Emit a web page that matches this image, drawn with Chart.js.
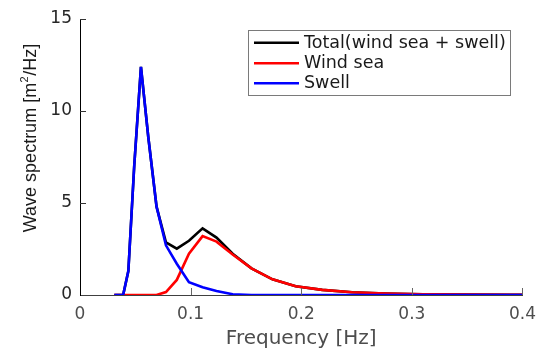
<!DOCTYPE html>
<html><head><meta charset="utf-8">
<script src="https://cdn.jsdelivr.net/npm/chart.js@4.4.1/dist/chart.umd.min.js"></script>
<style>html,body{margin:0;padding:0;background:#fff;overflow:hidden}#wrap{width:545px;height:351px;position:relative}</style>
</head><body><div id="wrap"><canvas id="c" width="545" height="351"></canvas></div>
<script>
const frequency = [0.031,0.035,0.039,0.0437,0.049,0.0551,0.0617,0.0692,0.0777,0.0875,0.0985,0.1108,0.1234,0.138,0.155,0.174,0.195,0.219,0.246,0.276,0.31,0.348,0.39,0.4];
const swell     = [0,0,0,1.3,7.0,12.4,8.6,4.8,2.7,1.7,0.7,0.42,0.22,0.04,0,0,0,0,0,0,0,0,0,0];
const windSea   = [0,0,0,0,0,0,0,0,0.16,0.82,2.25,3.2,2.9,2.2,1.45,0.85,0.48,0.28,0.15,0.08,0.04,0.02,0.01,0.01];
const total     = [0,0,0,1.3,7.0,12.4,8.6,4.8,2.86,2.52,2.95,3.62,3.12,2.24,1.45,0.85,0.48,0.28,0.15,0.08,0.04,0.02,0.01,0.01];
const seriesLabels = ['Total(wind sea + swell)','Wind sea','Swell'];
const xTickValues = [0,0.1,0.2,0.3,0.4];
const yTickValues = [0,5,10,15];
const xTitle = 'Frequency [Hz]';
const yTitleParts = ['Wave spectrum [m','2','/Hz]'];

const pts = ys => frequency.map((f,i)=>({x:f,y:ys[i]}));
const TICK_FONT = {family:'DejaVu Sans', size:17};

const inwardTicks = {
  id:'inwardTicks',
  afterDraw(chart){
    const ctx = chart.ctx, xs = chart.scales.x, ys = chart.scales.y, a = chart.chartArea;
    ctx.save();
    ctx.lineWidth = 1;
    ctx.strokeStyle = '#333';
    ys.ticks.forEach(t=>{ if(t.value===0) return; const y=Math.round(ys.getPixelForValue(t.value))+0.5;
      ctx.beginPath(); ctx.moveTo(a.left, y); ctx.lineTo(a.left+6, y); ctx.stroke(); });
    ctx.strokeStyle = '#666';
    xs.ticks.forEach(t=>{ if(t.value===0) return; const x=Math.round(xs.getPixelForValue(t.value))+0.5;
      ctx.beginPath(); ctx.moveTo(x, a.bottom); ctx.lineTo(x, a.bottom-7); ctx.stroke(); });
    ctx.restore();
  }
};

const yTitlePlugin = {
  id:'yTitle',
  afterDraw(chart){
    const ctx = chart.ctx;
    const big = '18px "Liberation Sans"', small = '11px "Liberation Sans"';
    ctx.save();
    ctx.font = big; const w0 = ctx.measureText(yTitleParts[0]).width;
    ctx.font = small; const w1 = ctx.measureText(yTitleParts[1]).width + 1;
    ctx.font = big; const w2 = ctx.measureText(yTitleParts[2]).width;
    const totalW = w0+w1+w2;
    ctx.translate(35.5, 138);
    ctx.rotate(-Math.PI/2);
    ctx.fillStyle = '#1a1a1a';
    ctx.textBaseline = 'alphabetic';
    ctx.textAlign = 'left';
    let x = -totalW/2;
    ctx.font = big; ctx.fillText(yTitleParts[0], x, 0); x += w0;
    ctx.font = small; ctx.fillText(yTitleParts[1], x+0.5, -8); x += w1;
    ctx.font = big; ctx.fillText(yTitleParts[2], x, 0);
    ctx.restore();
  }
};

const legendBox = {
  id:'legendBox',
  afterDraw(chart){
    const ctx = chart.ctx;
    const bx = 248.5, by = 30.5, bw = 262, bh = 65;
    ctx.save();
    ctx.fillStyle = '#fff';
    ctx.fillRect(bx, by, bw, bh);
    ctx.strokeStyle = '#7a7a7a'; ctx.lineWidth = 1;
    ctx.strokeRect(bx, by, bw, bh);
    const rows = [42.7, 63.3, 83.3];
    ctx.font = '17.5px "DejaVu Sans"';
    ctx.textBaseline = 'middle';
    ctx.textAlign = 'left';
    chart.data.datasets.forEach((ds,i)=>{
      const y = rows[i];
      ctx.strokeStyle = ds.borderColor; ctx.lineWidth = 2.5;
      ctx.beginPath(); ctx.moveTo(254, y); ctx.lineTo(299, y); ctx.stroke();
      ctx.fillStyle = '#1a1a1a';
      ctx.fillText(ds.label, 304, y+0.5);
    });
    ctx.restore();
  }
};

new Chart(document.getElementById('c'), {
  type:'line',
  data:{datasets:[
    {label:seriesLabels[0], data:pts(total), borderColor:'#000000', order:3},
    {label:seriesLabels[1], data:pts(windSea), borderColor:'#ff0000', order:2},
    {label:seriesLabels[2], data:pts(swell), borderColor:'#0000ff', order:1}
  ]},
  options:{
    responsive:false, animation:false, devicePixelRatio:1,
    layout:{padding:{top:19,right:22,left:0,bottom:0}},
    elements:{line:{borderWidth:2.6, tension:0, fill:false, borderJoinStyle:'miter'}, point:{radius:0, hoverRadius:0}},
    plugins:{legend:{display:false}, tooltip:{enabled:false}},
    scales:{
      x:{type:'linear', min:0, max:0.4,
        afterBuildTicks:s=>{ s.ticks = xTickValues.map(v=>({value:v})); },
        afterFit:s=>{ s.height = 56; },
        grid:{display:false, drawTicks:false},
        border:{display:true, color:'#404040', width:1},
        ticks:{font:TICK_FONT, color:'#4d4d4d', padding:9, maxRotation:0, autoSkip:false, callback:v=>String(v)},
        title:{display:true, text:xTitle, font:{family:'DejaVu Sans', size:20}, color:'#4d4d4d', padding:{top:0,bottom:0}}
      },
      y:{type:'linear', min:0, max:15,
        afterBuildTicks:s=>{ s.ticks = yTickValues.map(v=>({value:v})); },
        afterFit:s=>{ s.width = 80; },
        grid:{display:false, drawTicks:false},
        border:{display:true, color:'#000', width:1},
        ticks:{font:TICK_FONT, color:'#262626', padding:8, autoSkip:false, callback:v=>String(v)}
      }
    }
  },
  plugins:[inwardTicks, yTitlePlugin, legendBox]
});
</script></body></html>
